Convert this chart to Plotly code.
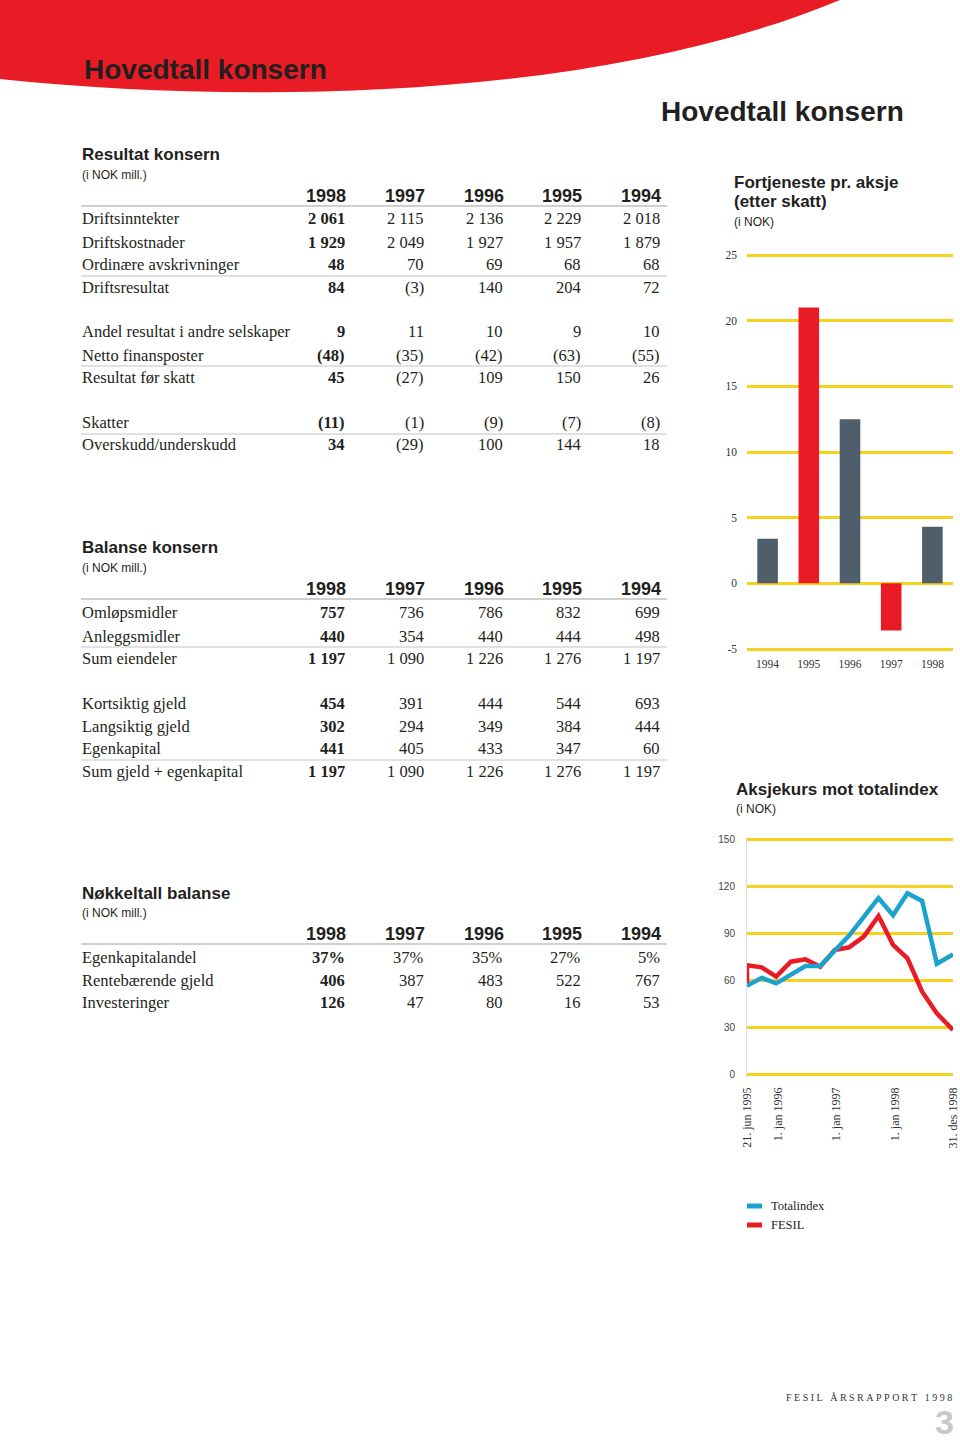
import plotly.graph_objects as go

W, H = 960, 1443

def px(x):
    return x / W

def py(y):
    return 1 - y / H

# ---------------- data ----------------
years = ["1998", "1997", "1996", "1995", "1994"]

res_labels = ["Driftsinntekter", "Driftskostnader", "Ordinære avskrivninger", "Driftsresultat",
              "Andel resultat i andre selskaper", "Netto finansposter", "Resultat før skatt",
              "Skatter", "Overskudd/underskudd"]
res_values = [
    ["2 061", "2 115", "2 136", "2 229", "2 018"],
    ["1 929", "2 049", "1 927", "1 957", "1 879"],
    ["48", "70", "69", "68", "68"],
    ["84", "(3)", "140", "204", "72"],
    ["9", "11", "10", "9", "10"],
    ["(48)", "(35)", "(42)", "(63)", "(55)"],
    ["45", "(27)", "109", "150", "26"],
    ["(11)", "(1)", "(9)", "(7)", "(8)"],
    ["34", "(29)", "100", "144", "18"],
]

bal_labels = ["Omløpsmidler", "Anleggsmidler", "Sum eiendeler",
              "Kortsiktig gjeld", "Langsiktig gjeld", "Egenkapital", "Sum gjeld + egenkapital"]
bal_values = [
    ["757", "736", "786", "832", "699"],
    ["440", "354", "440", "444", "498"],
    ["1 197", "1 090", "1 226", "1 276", "1 197"],
    ["454", "391", "444", "544", "693"],
    ["302", "294", "349", "384", "444"],
    ["441", "405", "433", "347", "60"],
    ["1 197", "1 090", "1 226", "1 276", "1 197"],
]

nok_labels = ["Egenkapitalandel", "Rentebærende gjeld", "Investeringer"]
nok_values = [
    ["37%", "37%", "35%", "27%", "5%"],
    ["406", "387", "483", "522", "767"],
    ["126", "47", "80", "16", "53"],
]

eps_years = ["1994", "1995", "1996", "1997", "1998"]
eps_values = [3.4, 21.0, 12.5, -3.6, 4.3]
eps_ticks = [-5, 0, 5, 10, 15, 20, 25]

kurs_dates = ["1995-06-21", "1995-09-21", "1995-12-21", "1996-03-21", "1996-06-21",
              "1996-09-21", "1996-12-21", "1997-03-21", "1997-06-21", "1997-09-21",
              "1997-12-21", "1998-03-21", "1998-06-21", "1998-09-21", "1998-12-31"]
totalindex = [57, 62, 58.5, 64, 69.6, 69.6, 79, 89, 101, 113, 102, 116, 111, 71, 77]
fesil_dates = ["1995-06-21"] + kurs_dates
fesil = [57, 70, 68.7, 62.8, 72.3, 73.8, 69.1, 79.8, 81.5, 88.3, 101.5, 83, 74.5, 53.2, 39.3, 28.7]
kurs_ticks = [0, 30, 60, 90, 120, 150]
date_tickvals = ["1995-06-21", "1996-01-01", "1997-01-01", "1998-01-01", "1998-12-31"]
date_ticktext = ["21. jun 1995", "1. jan 1996", "1. jan 1997", "1. jan 1998", "31. des 1998"]

# ---------------- style ----------------
RED = "#E91C26"
SLATE = "#4E5F6B"
BLUE = "#1AA4CD"
YELLOW = "#F6D21C"
INK = "#231F20"
SERIF = "Liberation Serif, Times New Roman, serif"
SANS = "Liberation Sans, Arial, sans-serif"

anns = []
shapes = []

def text(x, y, s, size, family, color=INK, xanchor="left", bold=False):
    anns.append(dict(x=px(x), y=py(y), xref="paper", yref="paper",
                     text=f"<b>{s}</b>" if bold else s, showarrow=False,
                     xanchor=xanchor, yanchor="middle", borderpad=0,
                     font=dict(size=size, family=family, color=color)))

def rule(y, color="#c4c4c4", width=1.2):
    shapes.append(dict(type="line", xref="paper", yref="paper",
                       x0=px(81), x1=px(667), y0=py(y), y1=py(y),
                       line=dict(color=color, width=width)))

col_right = [346, 425, 504, 582, 661]

def table(title, title_y, labels, values, row_y, rule_y):
    text(81, title_y, title, 17, SANS, bold=True)
    text(81, title_y + 20, "(i NOK mill.)", 12, SANS)
    for x, yr in zip(col_right, years):
        text(x + 1, title_y + 41, yr, 18, SANS, xanchor="right", bold=True)
    rule(title_y + 51, color="#cfcfcf", width=1.8)
    for lab, vals, y in zip(labels, values, row_y):
        text(81, y, lab, 16.5, SERIF)
        for i, (x, v) in enumerate(zip(col_right, vals)):
            text(x, y, v, 16.5, SERIF, xanchor="right", bold=(i == 0))
    for y in rule_y:
        rule(y)

table("Resultat konsern", 155, res_labels, res_values,
      [219, 242, 264, 287, 332, 355, 377, 422, 445], [276, 366, 434])
table("Balanse konsern", 548, bal_labels, bal_values,
      [613, 636, 658, 703, 726, 748, 771], [647, 760])
table("Nøkkeltall balanse", 893, nok_labels, nok_values,
      [957, 980, 1002], [])

# red header swoosh
p = [(0, 79), (250, 105), (600, 100), (840, 0)]
shapes.append(dict(
    type="path", xref="paper", yref="paper", fillcolor=RED, line=dict(width=0), layer="below",
    path=(f"M 0,1 L {px(840)},1 C {px(p[2][0])},{py(p[2][1])} {px(p[1][0])},{py(p[1][1])} "
          f"{px(p[0][0])},{py(p[0][1])} Z")))

text(83, 70, "Hovedtall konsern", 28, SANS, color="#231F20", bold=True)
text(660, 112, "Hovedtall konsern", 28, SANS, color="#231F20", bold=True)

# chart titles
text(733, 183, "Fortjeneste pr. aksje", 17, SANS, bold=True)
text(733, 202, "(etter skatt)", 17, SANS, bold=True)
text(733, 222, "(i NOK)", 12, SANS)
text(735, 789, "Aksjekurs mot totalindex", 17, SANS, bold=True)
text(735, 809, "(i NOK)", 12, SANS)

# manual legend
for y, c, lab in [(1206, BLUE, "Totalindex"), (1225, RED, "FESIL")]:
    shapes.append(dict(type="rect", xref="paper", yref="paper",
                       x0=px(747), x1=px(762), y0=py(y - 2.5), y1=py(y + 2.5),
                       fillcolor=c, line=dict(width=0)))
    text(770, y, lab, 12.5, SERIF)

# footer
footer = "\u00a0\u00a0\u00a0".join("\u00a0".join(w) for w in ["FESIL", "ÅRSRAPPORT", "1998"])
text(953, 1397, footer, 10, SERIF, color="#333333", xanchor="right")
text(944, 1422, "3", 34, SANS, color="#c8c8c8", xanchor="center", bold=True)

# ---------------- charts ----------------
fig = go.Figure()

fig.add_trace(go.Bar(x=eps_years, y=eps_values, width=0.5,
                     marker=dict(color=[SLATE, RED, SLATE, RED, SLATE], line=dict(width=0)),
                     xaxis="x", yaxis="y", showlegend=False))

fig.add_trace(go.Scatter(x=fesil_dates, y=fesil, mode="lines", name="FESIL",
                         line=dict(color=RED, width=4.5), xaxis="x2", yaxis="y2", showlegend=False))
fig.add_trace(go.Scatter(x=kurs_dates, y=totalindex, mode="lines", name="Totalindex",
                         line=dict(color=BLUE, width=4.5), xaxis="x2", yaxis="y2", showlegend=False))

# bar chart: -5..25 mapped to y 649..255 px
bar_unit = (649 - 255) / 30
fig.update_layout(
    xaxis=dict(domain=[px(747), px(953)], anchor="y", type="category", range=[-0.5, 4.5],
               showgrid=False, zeroline=False, showline=False, ticks="", automargin=False,
               tickfont=dict(family=SERIF, size=11.5, color="#333")),
    yaxis=dict(domain=[py(649 + 0.5 * bar_unit), py(255 - 0.5 * bar_unit)], anchor="x",
               range=[-5.5, 25.5], tickvals=eps_ticks, ticktext=[str(t) for t in eps_ticks],
               showgrid=True, gridcolor=YELLOW, gridwidth=3,
               zeroline=False, showline=False, ticks="", ticklabelstandoff=9, automargin=False,
               tickfont=dict(family=SERIF, size=11.5, color="#333")),
)

kurs_unit = (1075 - 840) / 150
fig.update_layout(
    xaxis2=dict(domain=[px(747), px(953)], anchor="y2", type="date",
                range=["1995-06-21", "1998-12-31"], tickvals=date_tickvals, ticktext=date_ticktext,
                tickangle=-90, showgrid=False, zeroline=False, showline=False, ticks="",
                ticklabelstandoff=6, automargin=False,
                tickfont=dict(family=SERIF, size=12, color="#333")),
    yaxis2=dict(domain=[py(1075 + 2 * kurs_unit), py(840 - 2 * kurs_unit)], anchor="x2",
                range=[-2, 152], tickvals=kurs_ticks, showgrid=True, gridcolor=YELLOW, gridwidth=3,
                zeroline=False, showline=True, linecolor="#dddddd", linewidth=1, ticks="",
                ticklabelstandoff=9, automargin=False,
                tickfont=dict(family=SANS, size=10, color="#444")),
)

fig.update_layout(
    width=W, height=H, margin=dict(l=0, r=0, t=0, b=0, pad=0, autoexpand=False),
    paper_bgcolor="white", plot_bgcolor="white",
    annotations=anns, shapes=shapes, bargap=0.5,
)

fig.write_html("out.html", config={"displayModeBar": False},
               post_script="document.body.style.margin='0';document.body.style.overflow='hidden';")
